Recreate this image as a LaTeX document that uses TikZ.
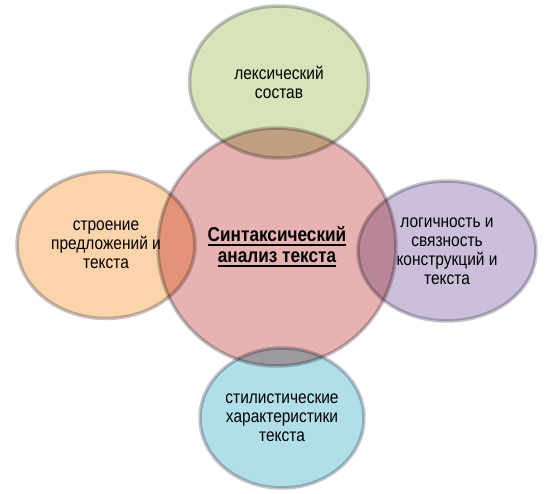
\documentclass[tikz,border=0pt]{standalone}
\usepackage{fontspec}
\setmainfont{Liberation Sans}[FakeStretch=0.86]
\usetikzlibrary{shapes.geometric}
\definecolor{syntred}{RGB}{230,178,178}
\definecolor{lexgreen}{RGB}{215,228,186}
\definecolor{structorange}{RGB}{252,212,172}
\definecolor{logicpurple}{RGB}{204,191,220}
\definecolor{stylblue}{RGB}{176,222,233}
\definecolor{ringgray}{RGB}{196,196,200}
\newcommand{\thickul}[1]{\leavevmode\setbox0\hbox{#1}\rlap{\rule[-4pt]{\wd0}{1.8pt}}\box0}
\tikzset{
  bubble/.style = {
    ellipse, draw=ringgray, line width=3.5pt, align=center, inner sep=0pt,
    font=\fontsize{18}{19}\selectfont
  }
}

\begin{document}
\begin{tikzpicture}[x=1pt, y=-1pt]

  \useasboundingbox (0,0) rectangle (555,494);

  \begin{scope}[blend mode=multiply]

  % Centre
  \node[bubble, circle, fill=syntred, minimum size=238pt,
        font=\fontsize{20}{21}\bfseries\selectfont] (synt) at (277,247)
        {\thickul{Синтаксический}\\\thickul{анализ текста}};

  % Outer bubbles
  \node[bubble, fill=lexgreen, minimum width=179pt, minimum height=152pt] (lex) at (279,82)
        {лексический\\состав};
  \node[bubble, fill=structorange, minimum width=178pt, minimum height=147pt] (struct) at (106,245)
        {строение\\предложений и\\текста};
  \node[bubble, fill=logicpurple, minimum width=178pt, minimum height=140pt] (logic) at (447,251)
        {логичность и\\связность\\конструкций и\\текста};
  \node[bubble, fill=stylblue, minimum width=164pt, minimum height=140pt] (styl) at (282,418)
        {стилистические\\характеристики\\текста};

  \end{scope}

\end{tikzpicture}
\end{document}
